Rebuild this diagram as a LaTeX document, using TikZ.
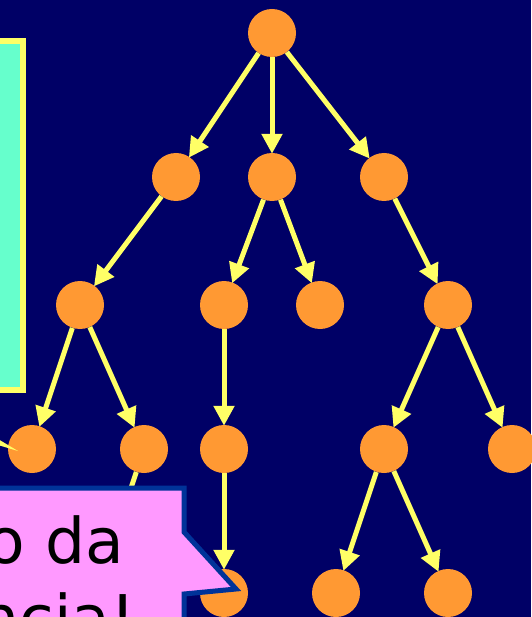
\documentclass[tikz,border=0pt]{standalone}
\usepackage{fontspec}
\setmainfont{DejaVu Sans}
\usetikzlibrary{arrows.meta}
\definecolor{bgnavy}{HTML}{000066}
\definecolor{nodeorange}{HTML}{FF9933}
\definecolor{arrowyellow}{HTML}{FFFF66}
\definecolor{boxcyan}{HTML}{66FFCC}
\definecolor{calloutpink}{HTML}{FF99FF}
\definecolor{calloutblue}{HTML}{003399}
\begin{document}
\begin{tikzpicture}[x=1pt,y=-1pt,
  treenode/.style={circle,fill=nodeorange,draw=none,minimum size=48pt,inner sep=0pt},
  treeedge/.style={draw=arrowyellow,line width=5pt,-{Triangle[width=20pt,length=20pt]},shorten >=-1pt},
  callouttext/.style={anchor=base east,font=\fontsize{63}{77}\selectfont,inner sep=0pt},
]
\useasboundingbox (0,0) rectangle (531,617);
\fill[bgnavy] (0,0) rectangle (531,617);

% nodes
\node[treenode] (r) at (272,33) {};
\node[treenode] (a) at (176,177) {};
\node[treenode] (b) at (272,177) {};
\node[treenode] (c) at (384,177) {};
\node[treenode] (a1) at (80,305) {};
\node[treenode] (b1) at (224,305) {};
\node[treenode] (b2) at (320,305) {};
\node[treenode] (c1) at (448,305) {};
\node[treenode] (a11) at (32,449) {};
\node[treenode] (a12) at (144,449) {};
\node[treenode] (b11) at (224,449) {};
\node[treenode] (c11) at (384,449) {};
\node[treenode] (c12) at (512,449) {};
\node[treenode] (b111) at (224,593) {};
\node[treenode] (c111) at (336,593) {};
\node[treenode] (c112) at (448,593) {};
\coordinate (hidden) at (96,593);

% edges
\draw[treeedge] (r) -- (a);
\draw[treeedge] (r) -- (b);
\draw[treeedge] (r) -- (c);
\draw[treeedge] (a) -- (a1);
\draw[treeedge] (b) -- (b1);
\draw[treeedge] (b) -- (b2);
\draw[treeedge] (c) -- (c1);
\draw[treeedge] (a1) -- (a11);
\draw[treeedge] (a1) -- (a12);
\draw[treeedge] (b1) -- (b11);
\draw[treeedge] (c1) -- (c11);
\draw[treeedge] (c1) -- (c12);
\draw[treeedge] (b11) -- (b111);
\draw[treeedge] (c11) -- (c111);
\draw[treeedge] (c11) -- (c112);
\draw[draw=arrowyellow,line width=5pt] (a12) -- (hidden);

% cyan callout (cropped at left)
\fill[arrowyellow] (-2,439) -- (18,451) -- (-2,445) -- cycle;
\draw[fill=boxcyan,draw=arrowyellow,line width=6pt] (-10,41) rectangle (23,390);

% pink callout (cropped)
\draw[fill=calloutpink,draw=calloutblue,line width=5pt,line join=miter]
  (-10,488) -- (184,488) -- (184,532) -- (236,589) -- (184,594) -- (184,630) -- (-10,630) -- cycle;
\node[callouttext] (t1) at (124,563) {o da};
\node[callouttext] (t2) at (136,640) {ncia!};
\end{tikzpicture}
\end{document}
